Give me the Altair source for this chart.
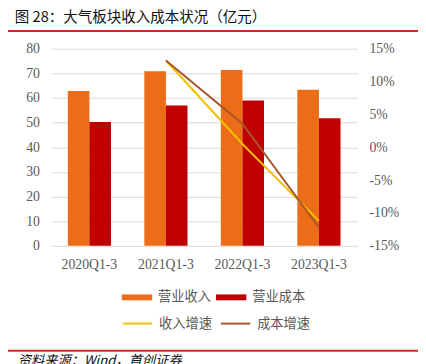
import altair as alt
import pandas as pd

categories = ["2020Q1-3", "2021Q1-3", "2022Q1-3", "2023Q1-3"]
revenue = [62.8, 70.9, 71.4, 63.3]
cost = [50.3, 57.0, 59.0, 51.8]
rev_growth = [None, 13.2, 0.5, -11.2]
cost_growth = [None, 13.2, 3.6, -12.2]

bar_series = ["营业收入", "营业成本"]
line_series = ["收入增速", "成本增速"]
bar_colors = ["#EC6C17", "#C00000"]
line_colors = ["#F2C000", "#A9562A"]

bars_df = pd.DataFrame(
    [{"cat": c, "series": bar_series[0], "v": v} for c, v in zip(categories, revenue)]
    + [{"cat": c, "series": bar_series[1], "v": v} for c, v in zip(categories, cost)]
)
lines_df = pd.DataFrame(
    [{"cat": c, "series": line_series[0], "g": g} for c, g in zip(categories, rev_growth) if g is not None]
    + [{"cat": c, "series": line_series[1], "g": g} for c, g in zip(categories, cost_growth) if g is not None]
)

NUM_FONT = "Liberation Serif"
CJK_FONT = "Noto Sans CJK SC"
GRAY = "#595959"

xscale = alt.Scale(domain=categories, paddingInner=0.436, paddingOuter=0.218)
xaxis = alt.Axis(title=None, labelAngle=0, ticks=False, domain=False, grid=False,
                 labelFont=NUM_FONT, labelFontSize=14, labelColor=GRAY, labelPadding=12)

bars = alt.Chart(bars_df).mark_bar().encode(
    x=alt.X("cat:N", scale=xscale, axis=xaxis),
    xOffset=alt.XOffset("series:N", sort=bar_series, scale=alt.Scale(paddingInner=0, paddingOuter=0)),
    y=alt.Y("v:Q", scale=alt.Scale(domain=[0, 80], nice=False),
            axis=alt.Axis(title=None, values=list(range(0, 81, 10)), ticks=False, domain=False,
                          grid=True, gridColor="#D9D9D9", gridWidth=1,
                          labelFont=NUM_FONT, labelFontSize=14, labelColor=GRAY, labelPadding=12)),
    color=alt.Color("series:N", sort=bar_series,
                    scale=alt.Scale(domain=bar_series, range=bar_colors),
                    legend=alt.Legend(title=None, orient="none", legendX=72, legendY=238,
                                      direction="horizontal",
                                      symbolType="M-1,-0.1935L1,-0.1935L1,0.1935L-1,0.1935Z",
                                      symbolSize=961, symbolStrokeWidth=0, symbolOpacity=1,
                                      labelOffset=6, columnPadding=5,
                                      labelFont=CJK_FONT, labelFontSize=13.5, labelColor=GRAY)),
)

lines = alt.Chart(lines_df).mark_line(strokeWidth=2).encode(
    x=alt.X("cat:N", scale=xscale, axis=xaxis),
    y=alt.Y("g:Q", scale=alt.Scale(domain=[-15, 15], nice=False),
            axis=alt.Axis(title=None, orient="right", values=list(range(-15, 16, 5)), ticks=False,
                          domain=False, grid=False, labelExpr="datum.value + '%'",
                          labelFont=NUM_FONT, labelFontSize=14, labelColor=GRAY, labelPadding=12)),
    stroke=alt.Stroke("series:N", sort=line_series,
                      scale=alt.Scale(domain=line_series, range=line_colors),
                      legend=alt.Legend(title=None, orient="none", legendX=72, legendY=264,
                                        direction="horizontal", symbolType="stroke",
                                        symbolSize=900, symbolStrokeWidth=2,
                                        labelOffset=6, columnPadding=5,
                                        labelFont=CJK_FONT, labelFontSize=13.5, labelColor=GRAY)),
)

title_text = alt.Chart(pd.DataFrame({"t": ["图 28：大气板块收入成本状况（亿元）"]})).mark_text(
    align="left", baseline="middle", font=CJK_FONT, fontSize=14.8, color="#111111"
).encode(text="t:N", x=alt.value(-37), y=alt.value(-31))

footer_text = alt.Chart(pd.DataFrame({"t": ["资料来源：Wind，首创证券"]})).mark_text(
    align="left", baseline="top", font=CJK_FONT, fontSize=13.5, fontStyle="italic", color="#111111"
).encode(text="t:N", x=alt.value(-34), y=alt.value(311))

top_rule = alt.Chart(pd.DataFrame({"a": [0]})).mark_rule(color="#D42A2A", strokeWidth=2).encode(
    x=alt.value(-47), x2=alt.value(374), y=alt.value(-18))
bottom_rule = alt.Chart(pd.DataFrame({"a": [0]})).mark_rule(color="#D42A2A", strokeWidth=2).encode(
    x=alt.value(-47), x2=alt.value(374), y=alt.value(308))

chart = alt.layer(bars, lines, title_text, footer_text, top_rule, bottom_rule).resolve_scale(
    y="independent", color="independent", stroke="independent"
).properties(
    width=312, height=201,
    padding={"left": 44, "top": 38, "right": 62, "bottom": 120},
    autosize=alt.AutoSizeParams(type="none"),
).configure_view(stroke=None)

chart.save("out.html", embed_options={"renderer": "svg", "actions": False})
